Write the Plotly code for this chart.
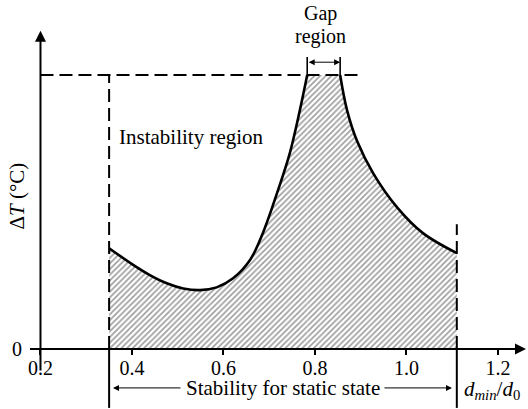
import plotly.graph_objects as go

# Stability map: temperature difference vs. normalised minimum gap d_min/d_0
left_x = [0.350, 0.400, 0.439, 0.476, 0.512, 0.549, 0.585, 0.621, 0.658, 0.686, 0.717, 0.745, 0.767, 0.783]
left_y = [3.68, 3.10, 2.70, 2.40, 2.21, 2.15, 2.25, 2.58, 3.25, 4.23, 5.69, 7.15, 8.72, 10.0]
right_x = [0.855, 0.870, 0.892, 0.927, 0.979, 1.036, 1.110]
right_y = [10.0, 8.72, 7.59, 6.42, 5.18, 4.23, 3.50]
gap_x = [0.783, 0.855]
gap_y = [10.0, 10.0]

x_ticks = [0.2, 0.4, 0.6, 0.8, 1.0, 1.2]
x_tick_text = ["0.2", "0.4", "0.6", "0.8", "1.0", "1.2"]
y_ticks = [0]
y_tick_text = ["0"]

dT_max = 10.0          # upper limit of the instability region
x_lo, x_hi = 0.35, 1.11  # static-stability bounds

FONT = "Liberation Serif"
FS = 21
TICK_FS = 20
INK = "black"

X_RANGE = [0.1115, 1.2656]
Y_RANGE = [-2.19, 12.74]

hatch = dict(shape="/", size=4, solidity=0.4, fgcolor="#3a3a3a", bgcolor="white")

fig = go.Figure()

# hatched stable area under the curve
for xs, ys, shp in [(left_x, left_y, "spline"), (gap_x, gap_y, "linear"), (right_x, right_y, "spline")]:
    fig.add_trace(go.Scatter(x=xs, y=ys, mode="lines", fill="tozeroy",
                             fillpattern=hatch, fillcolor="rgba(0,0,0,0)",
                             line=dict(width=0, shape=shp), hoverinfo="skip"))

# boundary curve branches
for xs, ys in [(left_x, left_y), (right_x, right_y)]:
    fig.add_trace(go.Scatter(x=xs, y=ys, mode="lines",
                             line=dict(color=INK, width=2.6, shape="spline"),
                             hoverinfo="skip"))

dash = "13px,6px"
shapes = [
    # upper limit and stability bounds
    dict(type="line", x0=0.2, x1=0.90, y0=dT_max, y1=dT_max, line=dict(color=INK, width=2, dash=dash)),
    dict(type="line", x0=x_lo, x1=x_lo, y0=0, y1=dT_max, line=dict(color=INK, width=2, dash=dash)),
    dict(type="line", x0=x_hi, x1=x_hi, y0=0, y1=4.55, line=dict(color=INK, width=2, dash=dash)),
    dict(type="line", x0=x_lo, x1=x_lo, y0=0, y1=-2.15, line=dict(color=INK, width=2)),
    dict(type="line", x0=x_hi, x1=x_hi, y0=0, y1=-2.15, line=dict(color=INK, width=2)),
    # gap-region markers
    dict(type="line", x0=gap_x[0], x1=gap_x[0], y0=dT_max, y1=10.66, line=dict(color=INK, width=1.6)),
    dict(type="line", x0=gap_x[1], x1=gap_x[1], y0=dT_max, y1=10.66, line=dict(color=INK, width=1.6)),
]

def arrow(x, y, ax, ay, width=2, size=1.0, side="end"):
    return dict(x=x, y=y, ax=ax, ay=ay, xref="x", yref="y", axref="x", ayref="y",
                text="", showarrow=True, arrowhead=2, arrowsize=size, arrowwidth=width,
                arrowcolor=INK, arrowside=side)

def label(x, y, text, xanchor="center", angle=0, size=FS):
    return dict(x=x, y=y, text=text, showarrow=False, textangle=angle,
                font=dict(family=FONT, size=size, color=INK), xanchor=xanchor, yanchor="middle")

annotations = [
    # axes with arrow tips
    arrow(0.2, 11.62, 0.2, -0.84, width=2, size=1.1),
    arrow(1.2613, 0, 0.177, 0, width=2, size=1.1),
    # gap width
    arrow(gap_x[1], 10.47, gap_x[0], 10.47, width=1, size=1.2, side="end+start"),
    # stability range
    arrow(0.3585, -1.42, 0.5093, -1.42, width=1, size=1.2),
    arrow(1.0995, -1.42, 0.9486, -1.42, width=1, size=1.2),
    label(0.729, -1.42, "Stability for static state"),
    label(0.367, 7.75, "Instability region", xanchor="left"),
    label(0.8131, 12.25, "Gap", size=20),
    label(0.8131, 11.42, "region", size=20),
    label(1.187, -1.5, "<i>d</i><sub><i>min</i></sub>/<i>d</i><sub>0</sub>"),
    label(0.1486, 5.6, "Δ<i>T</i> (°C)", angle=-90),
]

fig.update_layout(
    width=528, height=409,
    margin=dict(l=0, r=0, t=0, b=0),
    paper_bgcolor="white", plot_bgcolor="white",
    showlegend=False,
    shapes=shapes,
    annotations=annotations,
    xaxis=dict(range=X_RANGE, anchor="free", position=60 / 409,
               tickvals=x_ticks, ticktext=x_tick_text,
               ticks="outside", ticklen=5, tickwidth=1.5, tickcolor=INK,
               ticklabelstandoff=-4,
               showline=False, showgrid=False, zeroline=False,
               tickfont=dict(family=FONT, size=TICK_FS, color=INK)),
    yaxis=dict(range=Y_RANGE, anchor="free", position=41 / 528,
               tickvals=y_ticks, ticktext=y_tick_text,
               ticks="outside", ticklen=11, tickwidth=2, tickcolor=INK,
               ticklabelstandoff=4,
               showline=False, showgrid=False, zeroline=False,
               tickfont=dict(family=FONT, size=TICK_FS, color=INK)),
)

fig.write_html("out.html")
